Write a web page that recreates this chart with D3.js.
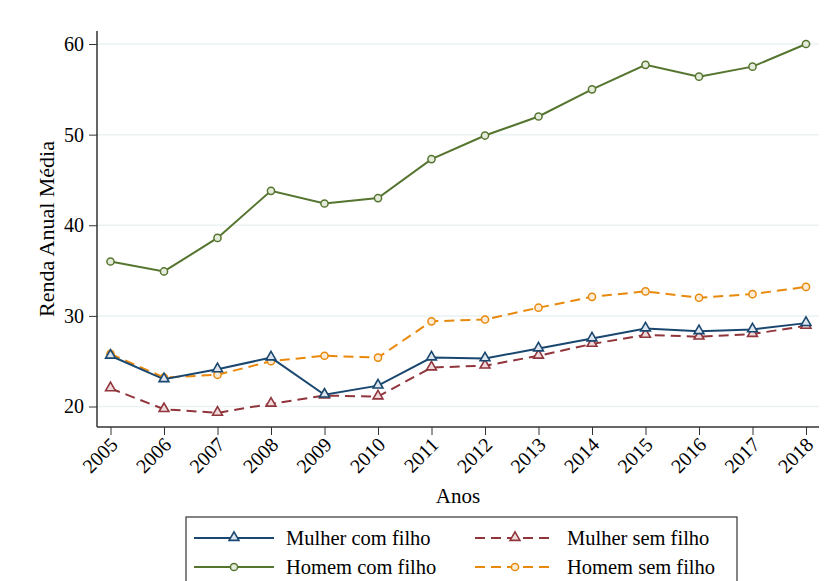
<!DOCTYPE html>
<html>
<head>
<meta charset="utf-8">
<script src="https://cdn.jsdelivr.net/npm/d3@7"></script>
<style>
  body { margin: 0; background: #fff; }
  svg, svg text { font-family: "Liberation Serif", "DejaVu Serif", serif !important; }
</style>
</head>
<body>
<svg></svg>
<script>
const years = [2005, 2006, 2007, 2008, 2009, 2010, 2011, 2012, 2013, 2014, 2015, 2016, 2017, 2018]
const mulherComFilho = [25.6, 23.0, 24.1, 25.4, 21.3, 22.3, 25.4, 25.3, 26.4, 27.5, 28.6, 28.3, 28.5, 29.2]
const mulherSemFilho = [22.0, 19.7, 19.3, 20.3, 21.2, 21.1, 24.3, 24.5, 25.6, 26.9, 27.9, 27.7, 28.0, 28.9]
const homemComFilho = [36.0, 34.9, 38.6, 43.8, 42.4, 43.0, 47.3, 49.9, 52.0, 55.0, 57.7, 56.4, 57.5, 60.0]
const homemSemFilho = [25.8, 23.2, 23.5, 25.0, 25.6, 25.4, 29.4, 29.6, 30.9, 32.1, 32.7, 32.0, 32.4, 33.2]
const yTicks = [20, 30, 40, 50, 60]

const w = 830
const h = 581
const serif = '"Liberation Serif", "DejaVu Serif", serif'

let svg = d3.select('svg').attr('width', w).attr('height', h).style('font-family', serif)

let series = [
  {name: 'Mulher com filho', values: mulherComFilho, color: '#1a476f', fill: '#dde5ee', dash: null, marker: 'triangle'},
  {name: 'Mulher sem filho', values: mulherSemFilho, color: '#90353b', fill: '#efdadb', dash: '10,6', marker: 'triangle'},
  {name: 'Homem com filho', values: homemComFilho, color: '#55752f', fill: '#e5ecdc', dash: null, marker: 'circle'},
  {name: 'Homem sem filho', values: homemSemFilho, color: '#e8890c', fill: '#fcecd6', dash: '10,6', marker: 'circle'}
]

let xScale = d3.scaleLinear().domain([2005, 2018]).range([110.5, 806])
let yScale = d3.scaleLinear().domain([20, 60]).range([406.5, 44])

// grid
svg.append('g')
  .selectAll('line')
  .data(yTicks)
  .enter()
  .append('line')
  .attr('x1', 97).attr('x2', 819)
  .attr('y1', d => yScale(d)).attr('y2', d => yScale(d))
  .attr('stroke', '#eaf2f3')
  .attr('stroke-width', 1.5)

let xAxis = d3.axisBottom(xScale).tickValues(years).tickFormat(d3.format('d')).tickSize(8).tickSizeOuter(0)
let yAxis = d3.axisLeft(yScale).tickValues(yTicks).tickSize(8).tickSizeOuter(0)

let gx = svg.append('g')
  .attr('transform', 'translate(0,427)')
  .call(xAxis)
  .attr('font-family', serif)
gx.select('.domain').attr('d', 'M97,0H819').attr('stroke', '#333').attr('stroke-width', 1.5)
gx.selectAll('.tick line').attr('stroke', '#333')
gx.selectAll('.tick text')
  .attr('font-size', 20)
  .attr('text-anchor', 'end')
  .attr('transform', 'translate(3,14) rotate(-45)')
  .attr('dy', '0.35em')
  .attr('y', 0).attr('x', 0)
  .attr('fill', '#000')

let gy = svg.append('g')
  .attr('transform', 'translate(97,0)')
  .call(yAxis)
  .attr('font-family', serif)
gy.select('.domain').attr('d', 'M0,31V427').attr('stroke', '#333').attr('stroke-width', 1.5)
gy.selectAll('.tick line').attr('stroke', '#333')
gy.selectAll('.tick text').attr('font-size', 20).attr('x', -13).attr('fill', '#000')

svg.append('text')
  .attr('transform', 'translate(54,229) rotate(-90)')
  .attr('text-anchor', 'middle')
  .attr('font-size', 22)
  .text('Renda Anual Média')

svg.append('text')
  .attr('x', 458).attr('y', 503)
  .attr('text-anchor', 'middle')
  .attr('font-size', 21)
  .text('Anos')

let line = d3.line()
  .x((d, i) => xScale(years[i]))
  .y(d => yScale(d))

let triangle = d3.symbol().type(d3.symbolTriangle).size(42)

let drawMarker = (g, s, x, y) => {
  if (s.marker === 'triangle') {
    g.append('path')
      .attr('d', triangle())
      .attr('transform', 'translate(' + x + ',' + (y - 0.5) + ')')
      .attr('fill', s.fill).attr('stroke', s.color).attr('stroke-width', 1.6)
  } else {
    g.append('circle')
      .attr('cx', x).attr('cy', y).attr('r', 3.6)
      .attr('fill', s.fill).attr('stroke', s.color).attr('stroke-width', 1.5)
  }
}

// draw order: back to front
let order = [series[2], series[3], series[1], series[0]]
order.forEach(s => {
  let g = svg.append('g')
  g.append('path')
    .datum(s.values)
    .attr('d', line)
    .attr('fill', 'none')
    .attr('stroke', s.color)
    .attr('stroke-width', 2)
    .attr('stroke-dasharray', s.dash)
  s.values.forEach((v, i) => drawMarker(g, s, xScale(years[i]), yScale(v)))
})

// legend
let lg = svg.append('g')
lg.append('rect')
  .attr('x', 186).attr('y', 517).attr('width', 551).attr('height', 80)
  .attr('fill', '#fff').attr('stroke', '#333').attr('stroke-width', 1.2)

let legendPos = [
  {x: 194, y: 538}, {x: 475, y: 538},
  {x: 194, y: 567}, {x: 475, y: 567}
]
series.forEach((s, i) => {
  let p = legendPos[i]
  let g = lg.append('g')
  g.append('line')
    .attr('x1', p.x).attr('x2', p.x + 80)
    .attr('y1', p.y).attr('y2', p.y)
    .attr('stroke', s.color).attr('stroke-width', 2)
    .attr('stroke-dasharray', s.dash ? '10,6' : null)
  drawMarker(g, s, p.x + 40, p.y)
  g.append('text')
    .attr('x', i % 2 === 0 ? 286 : 567)
    .attr('y', p.y)
    .attr('dy', '0.35em')
    .attr('font-size', 20.5)
    .text(s.name)
})
</script>
</body>
</html>
